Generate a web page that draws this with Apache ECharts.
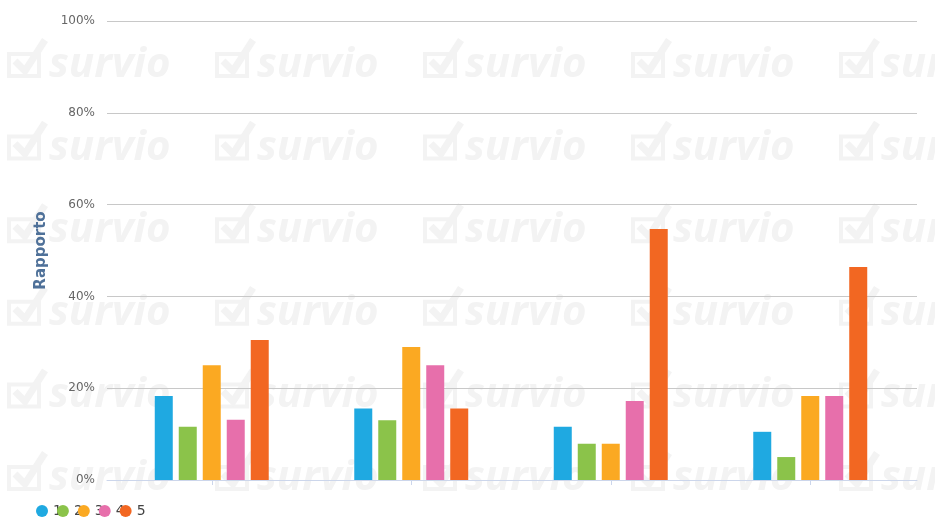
<!DOCTYPE html>
<html>
<head>
<meta charset="utf-8">
<script src="https://cdn.jsdelivr.net/npm/echarts@6/dist/echarts.min.js"></script>
<style>
  html, body { margin: 0; padding: 0; background: #fff; }
  #chart { width: 935px; height: 520px; }
</style>
</head>
<body>
<div id="chart"></div>
<script>
// ---- data ----
var categories = ['A', 'B', 'C', 'D'];
var seriesNames = ['1', '2', '3', '4', '5'];
var values1 = [18.3, 15.6, 11.6, 10.5];
var values2 = [11.6, 13.0, 7.9, 5.0];
var values3 = [25.0, 29.0, 7.9, 18.3];
var values4 = [13.1, 25.0, 17.2, 18.3];
var values5 = [30.5, 15.6, 54.7, 46.4];
var yTicks = [0, 20, 40, 60, 80, 100];
var axisTitle = 'Rapporto';
var watermarkText = 'survio';

var colors = ['#1fa9e1', '#8bc34a', '#fba922', '#e76fab', '#f26722'];
var allValues = [values1, values2, values3, values4, values5];

var chart = echarts.init(document.getElementById('chart'), null, { renderer: 'canvas' });

// watermark tiles (decoration)
var graphics = [];
var wmColor = '#f3f3f3';
for (var r = 0; r < 6; r++) {
  for (var c = 0; c < 5; c++) {
    var ox = 7 + c * 208;
    var oy = 40 + r * 82.6;
    graphics.push({
      type: 'rect', z: -10, silent: true,
      shape: { x: ox + 2, y: oy + 14, width: 30, height: 22 },
      style: { fill: null, stroke: wmColor, lineWidth: 4 }
    });
    graphics.push({
      type: 'polyline', z: -10, silent: true,
      shape: { points: [[ox + 8, oy + 21], [ox + 18, oy + 31], [ox + 38, oy + 0]] },
      style: { fill: null, stroke: wmColor, lineWidth: 7 }
    });
    graphics.push({
      type: 'text', z: -10, silent: true,
      x: ox + 42, y: oy + 25,
      style: {
        text: watermarkText, fill: wmColor,
        font: 'italic bold 42px "Open Sans", sans-serif',
        verticalAlign: 'middle', align: 'left'
      }
    });
  }
}

var series = allValues.map(function (vals, i) {
  return {
    name: seriesNames[i],
    type: 'bar',
    xAxisIndex: 1,
    yAxisIndex: 1,
    data: vals,
    barWidth: 18,
    barGap: '33.3%',
    itemStyle: { color: colors[i] },
    emphasis: { disabled: true }
  };
});

var option = {
  animation: false,
  backgroundColor: '#ffffff',
  color: colors,
  graphic: graphics,
  legend: {
    left: 36, top: 504, padding: 0,
    icon: 'circle',
    itemWidth: 12, itemHeight: 12,
    itemGap: -5,
    textStyle: { color: '#444', fontSize: 14, fontFamily: '"DejaVu Sans", sans-serif' },
    data: seriesNames
  },
  grid: [
    { left: 107, right: 18, top: 21, bottom: 40, containLabel: false },
    { left: 112, right: 25, top: 21, bottom: 40, containLabel: false }
  ],
  xAxis: [
    {
      gridIndex: 0, type: 'category', data: categories,
      axisLine: { show: true, lineStyle: { color: '#ccd6eb', width: 1 } },
      axisTick: { show: false }, axisLabel: { show: false }
    },
    {
      gridIndex: 1, type: 'category', data: categories,
      axisLine: { show: false },
      axisTick: { show: true, alignWithLabel: true, length: 5, lineStyle: { color: '#ccd6eb' } },
      axisLabel: { show: false }
    }
  ],
  yAxis: [
    {
      gridIndex: 0, type: 'value', min: yTicks[0], max: yTicks[yTicks.length - 1], interval: 20,
      name: axisTitle, nameLocation: 'middle', nameGap: 58, nameRotate: 90,
      nameTextStyle: { color: '#4f7199', fontWeight: 'bold', fontSize: 15, fontFamily: '"DejaVu Sans", sans-serif' },
      axisLine: { show: false }, axisTick: { show: false },
      axisLabel: { formatter: '{value}%', color: '#666', fontSize: 12, margin: 12, fontFamily: '"DejaVu Sans", sans-serif' },
      splitLine: { lineStyle: { color: '#c8c8c8', width: 1 } }
    },
    {
      gridIndex: 1, type: 'value', min: yTicks[0], max: yTicks[yTicks.length - 1], interval: 20,
      show: false, splitLine: { show: false }
    }
  ],
  series: series
};
chart.setOption(option);
</script>
</body>
</html>
